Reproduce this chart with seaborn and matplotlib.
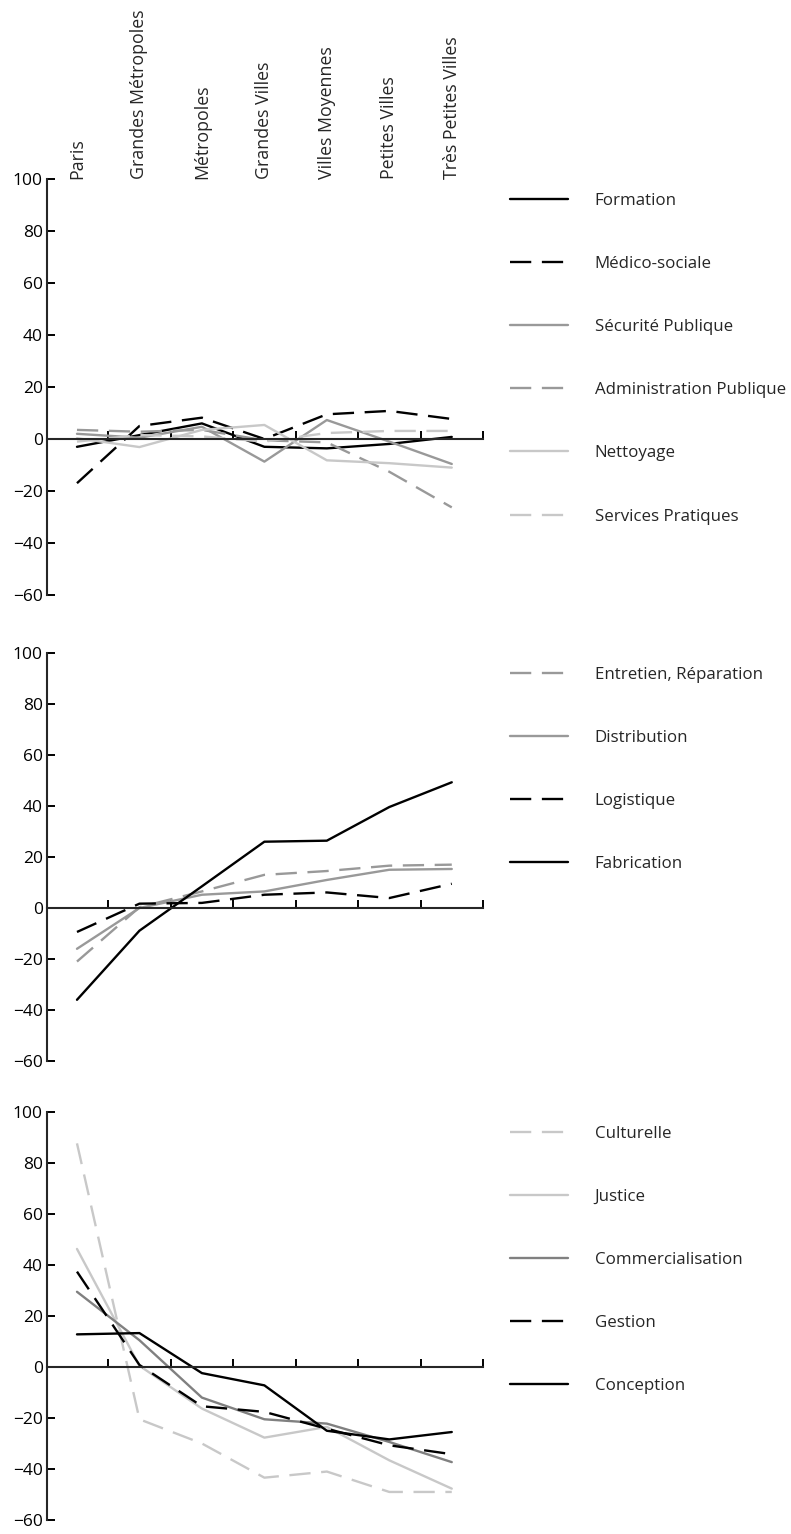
import matplotlib
matplotlib.use("Agg")
import matplotlib.pyplot as plt
import seaborn as sns

# Style
sns.set_style("ticks")
plt.rcParams['font.family'] = ['Open Sans', 'DejaVu Sans']

# Données
categories = ["Paris", "Grandes Métropoles", "Métropoles", "Grandes Villes",
              "Villes Moyennes", "Petites Villes", "Très Petites Villes"]
x_pos = list(range(len(categories)))
boundaries = [i + 0.5 for i in x_pos]
y_ticks = [-60, -40, -20, 0, 20, 40, 60, 80, 100]

# panneau 1
formation = [-3, 1.5, 6, -3, -3.6, -1.9, 0.8]
medico_sociale = [-17, 5, 8.2, 0, 9.5, 10.8, 7.7]
securite_publique = [2, 0.5, 4.7, -8.7, 7.3, -1, -9.6]
administration_publique = [3.5, 2.8, 3.5, -0.5, -1.3, -12.6, -26.3]
nettoyage = [0.3, -3.1, 3.5, 5.4, -8.2, -9.3, -11]
services_pratiques = [-1, 1.5, 1, -1, 2.3, 3.1, 3.1]

# panneau 2
entretien_reparation = [-21, 0.3, 6.5, 13, 14.5, 16.6, 17]
distribution = [-16, 0, 5.2, 6.5, 11, 15, 15.3]
logistique = [-9.4, 1.7, 2, 5.2, 6.1, 3.9, 9.5]
fabrication = [-36, -8.9, 8.5, 26, 26.4, 39.6, 49.3]

# panneau 3
culturelle = [87.7, -20.5, -30, -43.4, -41, -49, -49]
justice = [46.3, 0.5, -16.3, -27.7, -23.5, -36.6, -47.7]
commercialisation = [29.5, 10.5, -12, -20.5, -22.2, -29.4, -37.3]
gestion = [37.4, 0.8, -15.4, -17.6, -24.2, -30.7, -34.2]
conception = [12.8, 13.3, -2.4, -7.2, -25, -28.4, -25.5]

BLACK = "#000000"
GREY = "#999999"
DARK_GREY = "#808080"
LIGHT = "#c8c8c8"
DASH = (0, (9, 4.5))

panels = [
    [("Formation", formation, BLACK, "-"),
     ("Médico-sociale", medico_sociale, BLACK, DASH),
     ("Sécurité Publique", securite_publique, GREY, "-"),
     ("Administration Publique", administration_publique, GREY, DASH),
     ("Nettoyage", nettoyage, LIGHT, "-"),
     ("Services Pratiques", services_pratiques, LIGHT, DASH)],
    [("Entretien, Réparation", entretien_reparation, GREY, DASH),
     ("Distribution", distribution, GREY, "-"),
     ("Logistique", logistique, BLACK, DASH),
     ("Fabrication", fabrication, BLACK, "-")],
    [("Culturelle", culturelle, LIGHT, DASH),
     ("Justice", justice, LIGHT, "-"),
     ("Commercialisation", commercialisation, DARK_GREY, "-"),
     ("Gestion", gestion, BLACK, DASH),
     ("Conception", conception, BLACK, "-")],
]

W, H = 791, 1534
fig = plt.figure(figsize=(W / 100, H / 100), dpi=100)

# (haut, bas) de chaque panneau en pixels
panel_px = [(179, 595), (653, 1061), (1112, 1520)]
left_px, right_px = 47, 483

for k, (series, (top, bot)) in enumerate(zip(panels, panel_px)):
    ax = fig.add_axes([left_px / W, 1 - bot / H, (right_px - left_px) / W, (bot - top) / H])

    handles = []
    for label, values, color, ls in series:
        sns.lineplot(x=x_pos, y=values, ax=ax, color=color, linestyle=ls,
                     linewidth=1.7, label=label)
        handles.append(ax.lines[-1])

    ax.set_xlim(-0.48, 6.5)
    ax.set_ylim(-60, 100)
    sns.despine(ax=ax, top=True, right=True)
    ax.spines['bottom'].set_position(('data', 0))
    for s in ['left', 'bottom']:
        ax.spines[s].set_linewidth(1.5)
    ax.set_yticks(y_ticks)
    ax.set_xticks(boundaries)
    ax.set_xticklabels([])
    ax.tick_params(axis='both', direction='in', length=6, width=1.4,
                   labelsize=12.5, colors='black')
    ax.tick_params(axis='y', pad=3)
    ax.set_xlabel("")
    ax.set_ylabel("")

    leg = ax.legend(handles, [s[0] for s in series], loc='upper left',
                    bbox_to_anchor=(510 / W, 1 - (top + 14) / H),
                    bbox_transform=fig.transFigure, frameon=False,
                    fontsize=12.2, handlelength=3.4, handletextpad=1.6,
                    labelspacing=2.78, borderpad=0, borderaxespad=0)

    if k == 0:
        sec = ax.secondary_xaxis('top')
        sec.set_xticks(x_pos)
        sec.set_xticklabels(categories, rotation=90, fontsize=12.8)
        sec.tick_params(length=0, pad=0)
        sec.spines['top'].set_visible(False)

fig.savefig("out.png", dpi=100)
